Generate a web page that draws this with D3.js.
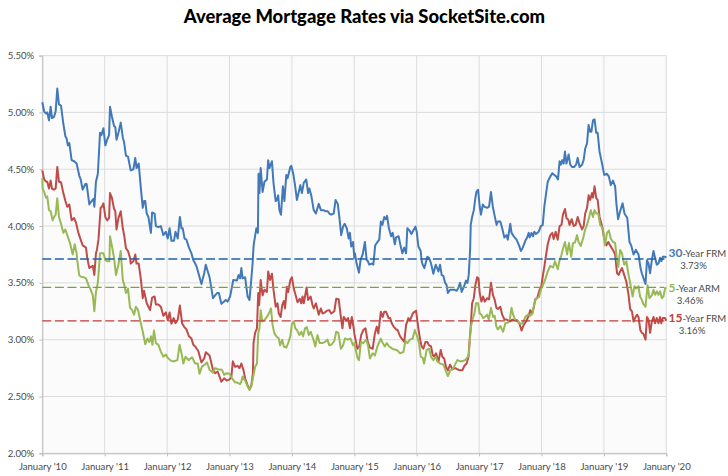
<!DOCTYPE html>
<html>
<head>
<meta charset="utf-8">
<script src="https://cdn.jsdelivr.net/npm/d3@7"></script>
<style>
  html, body { margin: 0; padding: 0; background: #fff; }
  svg { display: block; }
  text { font-family: Lato, "Open Sans", sans-serif; }
</style>
</head>
<body>
<div id="chart"></div>
<script>
// Rates: [decimal year, rate in %]
const rate30 = [
  [2010.0,5.09],[2010.03,5.01],[2010.06,4.99],[2010.08,5.0],[2010.107,4.93],[2010.134,5.05],[2010.155,4.95],[2010.187,4.96],[2010.214,5.01],[2010.24,5.21],[2010.267,5.07],[2010.3,5.06],[2010.337,4.9],[2010.37,4.79],[2010.39,4.77],[2010.41,4.71],[2010.433,4.73],[2010.47,4.58],[2010.51,4.57],[2010.55,4.55],[2010.594,4.44],[2010.615,4.41],[2010.647,4.32],[2010.69,4.37],[2010.71,4.37],[2010.754,4.19],[2010.79,4.22],[2010.82,4.24],[2010.834,4.17],[2010.86,4.39],[2010.89,4.46],[2010.925,4.82],[2010.946,4.8],[2010.98,4.86],
  [2011.01,4.71],[2011.04,4.76],[2011.07,4.8],[2011.085,5.05],[2011.117,4.96],[2011.15,4.88],[2011.17,4.87],[2011.19,4.76],[2011.224,4.83],[2011.257,4.91],[2011.29,4.78],[2011.31,4.74],[2011.34,4.62],[2011.374,4.61],[2011.417,4.49],[2011.46,4.5],[2011.49,4.6],[2011.51,4.51],[2011.545,4.55],[2011.58,4.33],[2011.61,4.16],[2011.63,4.22],[2011.65,4.22],[2011.674,4.11],[2011.7,4.08],[2011.74,3.94],[2011.76,4.12],[2011.8,4.11],[2011.82,4.0],[2011.86,3.99],[2011.9,4.0],[2011.94,3.92],[2011.98,3.95],
  [2012.01,3.89],[2012.04,3.98],[2012.07,3.87],[2012.11,3.87],[2012.135,3.95],[2012.17,3.89],[2012.205,4.08],[2012.23,3.98],[2012.25,3.98],[2012.28,3.89],[2012.31,3.88],[2012.35,3.81],[2012.39,3.76],[2012.42,3.7],[2012.45,3.67],[2012.475,3.64],[2012.55,3.49],[2012.595,3.585],[2012.62,3.66],[2012.68,3.55],[2012.735,3.365],[2012.77,3.39],[2012.8,3.41],[2012.83,3.41],[2012.87,3.315],[2012.9,3.33],[2012.94,3.35],[2012.97,3.335],
  [2013.01,3.38],[2013.06,3.525],[2013.12,3.52],[2013.145,3.57],[2013.17,3.54],[2013.19,3.63],[2013.21,3.54],[2013.25,3.55],[2013.29,3.38],[2013.32,3.35],[2013.34,3.47],[2013.37,3.67],[2013.385,3.82],[2013.395,3.86],[2013.43,3.98],[2013.455,3.94],[2013.465,4.46],[2013.48,4.29],[2013.5,4.51],[2013.53,4.3],[2013.56,4.39],[2013.6,4.41],[2013.62,4.58],[2013.64,4.51],[2013.68,4.57],[2013.705,4.38],[2013.74,4.22],[2013.76,4.23],[2013.78,4.27],[2013.8,4.14],[2013.825,4.1],[2013.855,4.35],[2013.88,4.22],[2013.91,4.45],[2013.93,4.42],[2013.975,4.52],[2013.99,4.53],
  [2014.02,4.465],[2014.05,4.36],[2014.08,4.23],[2014.11,4.3],[2014.135,4.36],[2014.16,4.29],[2014.19,4.38],[2014.23,4.41],[2014.26,4.29],[2014.28,4.33],[2014.31,4.27],[2014.35,4.14],[2014.385,4.11],[2014.43,4.195],[2014.465,4.14],[2014.51,4.14],[2014.535,4.13],[2014.575,4.13],[2014.6,4.11],[2014.63,4.1],[2014.67,4.11],[2014.7,4.23],[2014.735,4.195],[2014.76,4.08],[2014.79,3.92],[2014.82,3.995],[2014.845,4.02],[2014.88,3.98],[2014.91,3.89],[2014.93,3.94],[2014.95,3.82],[2014.98,3.86],
  [2015.0,3.72],[2015.01,3.76],[2015.037,3.67],[2015.075,3.59],[2015.1,3.7],[2015.134,3.75],[2015.17,3.86],[2015.198,3.7],[2015.21,3.7],[2015.24,3.66],[2015.28,3.67],[2015.305,3.66],[2015.335,3.83],[2015.365,3.855],[2015.4,3.88],[2015.425,4.04],[2015.45,4.01],[2015.48,4.08],[2015.505,4.06],[2015.525,4.09],[2015.555,3.98],[2015.59,3.91],[2015.615,3.94],[2015.65,3.84],[2015.67,3.9],[2015.71,3.91],[2015.74,3.83],[2015.77,3.76],[2015.8,3.81],[2015.83,3.76],[2015.85,3.98],[2015.885,3.96],[2015.915,3.93],[2015.945,3.96],[2015.98,3.995],
  [2016.0,3.95],[2016.027,3.82],[2016.064,3.78],[2016.08,3.69],[2016.096,3.66],[2016.123,3.63],[2016.17,3.73],[2016.198,3.72],[2016.23,3.67],[2016.267,3.58],[2016.305,3.66],[2016.348,3.6],[2016.374,3.66],[2016.4,3.57],[2016.428,3.56],[2016.455,3.5],[2016.48,3.48],[2016.5,3.41],[2016.535,3.44],[2016.572,3.44],[2016.604,3.44],[2016.64,3.43],[2016.663,3.45],[2016.695,3.5],[2016.72,3.42],[2016.76,3.47],[2016.79,3.52],[2016.813,3.5],[2016.834,3.57],[2016.856,3.79],[2016.866,4.01],[2016.888,4.08],[2016.915,4.14],[2016.94,4.245],[2016.957,4.3],[2016.984,4.32],
  [2017.01,4.17],[2017.03,4.1],[2017.06,4.19],[2017.085,4.17],[2017.13,4.16],[2017.16,4.17],[2017.19,4.3],[2017.22,4.17],[2017.245,4.1],[2017.28,4.01],[2017.3,4.04],[2017.34,4.04],[2017.37,3.98],[2017.405,3.9],[2017.44,3.92],[2017.46,3.88],[2017.5,4.02],[2017.52,3.94],[2017.555,3.91],[2017.6,3.88],[2017.64,3.83],[2017.67,3.78],[2017.7,3.81],[2017.74,3.87],[2017.77,3.9],[2017.795,3.94],[2017.81,3.9],[2017.84,3.94],[2017.864,3.91],[2017.885,3.95],[2017.91,3.93],[2017.955,3.95],[2017.99,4.0],
  [2018.02,4.01],[2018.045,4.17],[2018.077,4.3],[2018.1,4.39],[2018.14,4.435],[2018.173,4.465],[2018.205,4.45],[2018.237,4.435],[2018.264,4.41],[2018.29,4.57],[2018.31,4.54],[2018.333,4.58],[2018.355,4.55],[2018.376,4.655],[2018.4,4.55],[2018.435,4.63],[2018.46,4.54],[2018.49,4.52],[2018.525,4.52],[2018.555,4.54],[2018.58,4.6],[2018.61,4.52],[2018.65,4.54],[2018.675,4.58],[2018.7,4.68],[2018.73,4.73],[2018.755,4.89],[2018.78,4.83],[2018.8,4.83],[2018.825,4.93],[2018.85,4.94],[2018.877,4.82],[2018.9,4.82],[2018.93,4.655],[2018.97,4.55],
  [2019.005,4.45],[2019.05,4.46],[2019.08,4.435],[2019.11,4.36],[2019.145,4.4],[2019.18,4.35],[2019.2,4.2],[2019.227,4.06],[2019.265,4.14],[2019.3,4.2],[2019.33,4.11],[2019.375,4.07],[2019.41,3.86],[2019.437,3.83],[2019.475,3.75],[2019.512,3.79],[2019.555,3.75],[2019.587,3.63],[2019.608,3.585],[2019.635,3.54],[2019.667,3.49],[2019.69,3.7],[2019.715,3.67],[2019.74,3.585],[2019.768,3.7],[2019.795,3.78],[2019.82,3.72],[2019.848,3.66],[2019.875,3.67],[2019.9,3.72],[2019.92,3.69],[2019.944,3.73],[2019.98,3.73],[2020.0,3.72]
];

const rate15 = [
  [2010.0,4.49],[2010.03,4.41],[2010.06,4.39],[2010.08,4.39],[2010.107,4.33],[2010.134,4.4],[2010.155,4.33],[2010.187,4.32],[2010.214,4.33],[2010.24,4.52],[2010.267,4.39],[2010.3,4.385],[2010.337,4.29],[2010.37,4.22],[2010.4,4.17],[2010.433,4.19],[2010.47,4.05],[2010.51,4.07],[2010.54,4.03],[2010.578,3.94],[2010.615,3.88],[2010.647,3.83],[2010.7,3.81],[2010.72,3.72],[2010.754,3.63],[2010.775,3.64],[2010.81,3.65],[2010.834,3.57],[2010.86,3.76],[2010.875,3.79],[2010.9,3.88],[2010.935,4.16],[2010.957,4.17],[2010.98,4.2],
  [2011.01,4.08],[2011.04,4.05],[2011.07,4.07],[2011.085,4.29],[2011.117,4.245],[2011.15,4.15],[2011.17,4.13],[2011.19,3.97],[2011.22,4.07],[2011.257,4.13],[2011.29,3.98],[2011.315,3.91],[2011.34,3.805],[2011.374,3.78],[2011.406,3.72],[2011.417,3.67],[2011.46,3.69],[2011.49,3.75],[2011.51,3.67],[2011.545,3.67],[2011.58,3.53],[2011.61,3.365],[2011.63,3.43],[2011.674,3.32],[2011.727,3.26],[2011.76,3.37],[2011.8,3.38],[2011.82,3.31],[2011.86,3.31],[2011.9,3.29],[2011.94,3.21],[2011.98,3.24],
  [2012.01,3.17],[2012.04,3.24],[2012.07,3.14],[2012.105,3.19],[2012.135,3.145],[2012.17,3.175],[2012.205,3.3],[2012.24,3.145],[2012.27,3.115],[2012.31,3.09],[2012.35,3.03],[2012.39,3.01],[2012.42,2.955],[2012.45,2.94],[2012.5,2.9],[2012.55,2.8],[2012.595,2.835],[2012.62,2.89],[2012.68,2.86],[2012.735,2.735],[2012.77,2.705],[2012.81,2.72],[2012.87,2.63],[2012.915,2.66],[2012.955,2.64],
  [2013.0,2.65],[2013.03,2.675],[2013.053,2.81],[2013.09,2.76],[2013.13,2.77],[2013.16,2.75],[2013.19,2.79],[2013.225,2.73],[2013.25,2.66],[2013.29,2.6],[2013.32,2.56],[2013.35,2.6],[2013.375,2.7],[2013.385,2.97],[2013.41,3.06],[2013.44,3.1],[2013.46,3.41],[2013.475,3.305],[2013.5,3.525],[2013.53,3.39],[2013.56,3.44],[2013.6,3.42],[2013.62,3.6],[2013.65,3.525],[2013.68,3.58],[2013.705,3.44],[2013.74,3.29],[2013.77,3.32],[2013.79,3.23],[2013.82,3.2],[2013.845,3.305],[2013.87,3.34],[2013.89,3.275],[2013.92,3.465],[2013.94,3.42],[2013.975,3.525],
  [2014.0,3.55],[2014.03,3.45],[2014.06,3.39],[2014.09,3.33],[2014.125,3.36],[2014.15,3.32],[2014.17,3.38],[2014.19,3.32],[2014.235,3.46],[2014.26,3.35],[2014.3,3.38],[2014.33,3.305],[2014.35,3.275],[2014.385,3.32],[2014.43,3.22],[2014.465,3.275],[2014.49,3.23],[2014.53,3.24],[2014.56,3.255],[2014.6,3.26],[2014.63,3.23],[2014.68,3.25],[2014.71,3.36],[2014.75,3.355],[2014.78,3.22],[2014.81,3.1],[2014.83,3.2],[2014.87,3.17],[2014.9,3.19],[2014.93,3.1],[2014.96,3.2],[2014.995,3.085],
  [2015.0,3.055],[2015.02,3.0],[2015.05,2.92],[2015.08,2.94],[2015.11,3.04],[2015.145,3.085],[2015.18,3.1],[2015.215,2.98],[2015.25,2.93],[2015.295,2.92],[2015.33,3.055],[2015.36,3.115],[2015.385,3.055],[2015.425,3.245],[2015.455,3.2],[2015.48,3.245],[2015.51,3.245],[2015.55,3.19],[2015.575,3.19],[2015.6,3.145],[2015.63,3.115],[2015.67,3.09],[2015.695,3.085],[2015.733,3.03],[2015.76,3.01],[2015.8,2.98],[2015.83,3.13],[2015.866,3.19],[2015.893,3.17],[2015.936,3.23],[2015.965,3.245],[2015.99,3.255],
  [2016.03,3.085],[2016.055,3.0],[2016.08,2.94],[2016.107,2.92],[2016.14,2.98],[2016.17,2.98],[2016.198,2.95],[2016.23,2.94],[2016.257,2.865],[2016.28,2.85],[2016.31,2.88],[2016.348,2.805],[2016.385,2.91],[2016.41,2.85],[2016.44,2.835],[2016.47,2.76],[2016.5,2.73],[2016.535,2.78],[2016.572,2.74],[2016.615,2.75],[2016.65,2.74],[2016.695,2.73],[2016.73,2.73],[2016.765,2.77],[2016.8,2.79],[2016.83,2.85],[2016.845,2.97],[2016.866,3.115],[2016.888,3.32],[2016.915,3.365],[2016.94,3.48],[2016.968,3.55],[2016.99,3.54],
  [2017.01,3.41],[2017.037,3.335],[2017.064,3.38],[2017.09,3.335],[2017.13,3.365],[2017.16,3.355],[2017.19,3.5],[2017.224,3.39],[2017.25,3.35],[2017.277,3.28],[2017.3,3.27],[2017.34,3.29],[2017.37,3.22],[2017.405,3.18],[2017.448,3.175],[2017.49,3.16],[2017.528,3.175],[2017.565,3.175],[2017.61,3.17],[2017.645,3.145],[2017.68,3.08],[2017.715,3.13],[2017.752,3.16],[2017.795,3.21],[2017.82,3.26],[2017.85,3.23],[2017.875,3.28],[2017.9,3.355],[2017.93,3.365],[2017.97,3.44],[2017.997,3.47],
  [2018.024,3.57],[2018.045,3.64],[2018.077,3.76],[2018.1,3.84],[2018.14,3.92],[2018.173,3.94],[2018.195,3.885],[2018.227,3.95],[2018.26,3.88],[2018.29,4.0],[2018.32,4.01],[2018.344,4.1],[2018.376,4.15],[2018.4,4.07],[2018.43,4.055],[2018.45,4.01],[2018.485,4.06],[2018.515,4.0],[2018.547,4.01],[2018.58,4.08],[2018.61,4.025],[2018.65,3.97],[2018.675,4.0],[2018.7,4.11],[2018.73,4.16],[2018.755,4.27],[2018.78,4.23],[2018.81,4.29],[2018.825,4.25],[2018.85,4.35],[2018.877,4.245],[2018.9,4.23],[2018.93,4.08],[2018.97,4.0],
  [2019.005,3.89],[2019.04,3.83],[2019.07,3.86],[2019.1,3.83],[2019.145,3.79],[2019.18,3.75],[2019.2,3.64],[2019.21,3.585],[2019.235,3.57],[2019.26,3.6],[2019.29,3.63],[2019.325,3.57],[2019.36,3.51],[2019.395,3.395],[2019.42,3.27],[2019.45,3.25],[2019.475,3.16],[2019.5,3.19],[2019.53,3.22],[2019.555,3.2],[2019.584,3.085],[2019.608,3.06],[2019.635,3.05],[2019.667,3.0],[2019.69,3.2],[2019.715,3.175],[2019.74,3.06],[2019.768,3.16],[2019.795,3.2],[2019.82,3.145],[2019.848,3.19],[2019.875,3.145],[2019.9,3.2],[2019.92,3.145],[2019.944,3.19],[2019.98,3.19],[2020.0,3.165]
];

const rate5 = [
  [2010.0,4.42],[2010.005,4.33],[2010.03,4.3],[2010.06,4.25],[2010.08,4.26],[2010.107,4.14],[2010.134,4.13],[2010.165,4.05],[2010.19,4.08],[2010.214,4.1],[2010.24,4.245],[2010.267,4.08],[2010.3,4.02],[2010.337,3.94],[2010.37,3.97],[2010.406,3.91],[2010.444,3.85],[2010.487,3.75],[2010.52,3.84],[2010.55,3.76],[2010.56,3.7],[2010.59,3.57],[2010.615,3.555],[2010.66,3.55],[2010.7,3.54],[2010.74,3.48],[2010.775,3.44],[2010.81,3.39],[2010.834,3.25],[2010.86,3.42],[2010.89,3.5],[2010.925,3.76],[2010.95,3.76],[2010.98,3.76],
  [2011.01,3.7],[2011.04,3.69],[2011.075,3.69],[2011.085,3.91],[2011.117,3.82],[2011.15,3.72],[2011.18,3.57],[2011.22,3.66],[2011.257,3.78],[2011.29,3.525],[2011.315,3.48],[2011.34,3.41],[2011.374,3.45],[2011.406,3.28],[2011.44,3.26],[2011.47,3.22],[2011.5,3.29],[2011.535,3.26],[2011.567,3.175],[2011.61,3.07],[2011.65,2.96],[2011.684,3.01],[2011.716,2.98],[2011.743,3.03],[2011.765,2.955],[2011.79,3.08],[2011.82,2.97],[2011.86,2.955],[2011.9,2.895],[2011.94,2.85],[2011.98,2.87],
  [2012.01,2.84],[2012.05,2.82],[2012.08,2.81],[2012.11,2.81],[2012.165,2.82],[2012.2,2.955],[2012.235,2.87],[2012.26,2.79],[2012.295,2.85],[2012.345,2.82],[2012.4,2.845],[2012.45,2.79],[2012.49,2.79],[2012.52,2.7],[2012.56,2.765],[2012.605,2.78],[2012.64,2.8],[2012.68,2.735],[2012.735,2.71],[2012.77,2.75],[2012.81,2.74],[2012.88,2.735],[2012.915,2.69],[2012.955,2.705],
  [2013.0,2.7],[2013.04,2.66],[2013.09,2.625],[2013.13,2.62],[2013.17,2.61],[2013.19,2.63],[2013.21,2.675],[2013.25,2.64],[2013.29,2.59],[2013.32,2.56],[2013.35,2.59],[2013.375,2.66],[2013.41,2.76],[2013.44,2.79],[2013.46,3.055],[2013.48,3.1],[2013.5,3.26],[2013.525,3.16],[2013.556,3.17],[2013.6,3.2],[2013.63,3.23],[2013.665,3.275],[2013.69,3.13],[2013.72,3.055],[2013.75,3.03],[2013.79,3.01],[2013.81,2.95],[2013.845,3.0],[2013.87,2.94],[2013.91,2.93],[2013.94,2.97],[2013.975,3.03],
  [2014.0,3.14],[2014.03,3.16],[2014.055,3.1],[2014.08,3.085],[2014.12,3.04],[2014.15,3.07],[2014.18,3.03],[2014.21,3.1],[2014.24,3.11],[2014.27,3.04],[2014.3,3.07],[2014.34,3.01],[2014.375,2.94],[2014.41,3.04],[2014.445,2.97],[2014.49,2.97],[2014.53,2.98],[2014.57,3.0],[2014.6,2.95],[2014.64,2.96],[2014.68,2.99],[2014.71,3.07],[2014.745,3.06],[2014.785,2.92],[2014.82,2.95],[2014.85,3.01],[2014.9,3.0],[2014.94,3.01],[2014.98,2.95],
  [2015.0,2.97],[2015.02,2.92],[2015.05,2.84],[2015.075,2.82],[2015.107,2.98],[2015.145,2.97],[2015.19,3.0],[2015.22,2.95],[2015.25,2.835],[2015.295,2.88],[2015.33,2.86],[2015.37,2.94],[2015.425,3.01],[2015.455,2.97],[2015.49,2.94],[2015.52,2.97],[2015.56,2.94],[2015.625,2.915],[2015.68,2.91],[2015.733,2.88],[2015.786,2.89],[2015.82,2.99],[2015.85,2.97],[2015.893,3.0],[2015.936,3.01],[2015.97,3.085],
  [2016.0,3.04],[2016.037,2.97],[2016.064,2.85],[2016.096,2.84],[2016.118,2.79],[2016.16,2.91],[2016.198,2.92],[2016.23,2.85],[2016.267,2.82],[2016.305,2.85],[2016.33,2.81],[2016.374,2.79],[2016.428,2.78],[2016.47,2.72],[2016.5,2.68],[2016.535,2.73],[2016.578,2.74],[2016.615,2.78],[2016.65,2.82],[2016.695,2.81],[2016.73,2.81],[2016.775,2.82],[2016.813,2.845],[2016.834,2.865],[2016.856,3.03],[2016.87,3.115],[2016.893,3.175],[2016.925,3.23],[2016.95,3.32],[2016.984,3.32],
  [2017.01,3.23],[2017.037,3.22],[2017.064,3.19],[2017.09,3.2],[2017.13,3.22],[2017.155,3.175],[2017.19,3.28],[2017.224,3.2],[2017.25,3.21],[2017.277,3.115],[2017.3,3.09],[2017.34,3.12],[2017.385,3.07],[2017.42,3.145],[2017.46,3.15],[2017.49,3.175],[2017.52,3.28],[2017.545,3.22],[2017.58,3.17],[2017.62,3.16],[2017.66,3.14],[2017.7,3.145],[2017.74,3.2],[2017.78,3.22],[2017.82,3.21],[2017.855,3.23],[2017.885,3.32],[2017.917,3.365],[2017.96,3.375],[2017.99,3.44],
  [2018.024,3.48],[2018.06,3.53],[2018.1,3.6],[2018.14,3.65],[2018.184,3.635],[2018.216,3.69],[2018.26,3.62],[2018.29,3.7],[2018.317,3.74],[2018.344,3.8],[2018.376,3.86],[2018.41,3.75],[2018.44,3.85],[2018.477,3.73],[2018.504,3.85],[2018.536,3.855],[2018.57,3.92],[2018.595,3.86],[2018.63,3.825],[2018.675,3.91],[2018.7,3.97],[2018.73,4.01],[2018.76,4.07],[2018.79,4.14],[2018.825,4.08],[2018.85,4.14],[2018.877,4.11],[2018.91,4.11],[2018.94,4.01],[2018.985,3.98],
  [2019.016,3.83],[2019.05,3.94],[2019.08,3.96],[2019.11,3.89],[2019.145,3.86],[2019.18,3.85],[2019.21,3.7],[2019.23,3.64],[2019.26,3.79],[2019.29,3.76],[2019.325,3.66],[2019.36,3.69],[2019.395,3.57],[2019.42,3.5],[2019.46,3.38],[2019.49,3.47],[2019.517,3.45],[2019.555,3.47],[2019.58,3.38],[2019.608,3.35],[2019.635,3.31],[2019.667,3.29],[2019.7,3.48],[2019.73,3.365],[2019.768,3.39],[2019.795,3.44],[2019.82,3.395],[2019.848,3.425],[2019.875,3.395],[2019.9,3.425],[2019.93,3.365],[2019.954,3.38],[2019.98,3.45],[2020.0,3.46]
];

// Moyennes affichées en pointillés
const averages = [3.71, 3.46, 3.165];

const yearTicks = d3.range(2010, 2021);
const rateTicks = [2, 2.5, 3, 3.5, 4, 4.5, 5, 5.5];

const width = 728, height = 476;
const svg = d3.select("#chart").append("svg")
  .attr("width", width)
  .attr("height", height);

const x = d3.scaleLinear().domain([2010, 2020]).range([42.3, 666.3]);
const y = d3.scaleLinear().domain([2, 5.5]).range([453.3, 55.6]);

// Titre
svg.append("text")
  .attr("x", 364.5)
  .attr("y", 22.5)
  .attr("text-anchor", "middle")
  .attr("font-size", 18.4)
  .attr("font-weight", 900)
  .attr("fill", "#000")
  .text("Average Mortgage Rates via SocketSite.com");

// Fond du graphique
svg.append("rect")
  .attr("x", x(2010))
  .attr("y", y(5.5))
  .attr("width", x(2020) - x(2010))
  .attr("height", y(2) - y(5.5))
  .attr("fill", "#fbfbfb");

// Grille
svg.append("g").selectAll("line")
  .data(rateTicks)
  .join("line")
  .attr("x1", x(2010)).attr("x2", x(2020))
  .attr("y1", d => y(d)).attr("y2", d => y(d))
  .attr("stroke", "#dcdcdc").attr("stroke-width", 1);

svg.append("g").selectAll("line")
  .data(yearTicks)
  .join("line")
  .attr("x1", d => x(d)).attr("x2", d => x(d))
  .attr("y1", y(5.5)).attr("y2", y(2))
  .attr("stroke", "#dcdcdc").attr("stroke-width", 1);

// Axes
const yAxis = svg.append("g")
  .attr("transform", `translate(${x(2010)},0)`)
  .call(d3.axisLeft(y).tickValues(rateTicks).tickSize(3).tickPadding(5).tickFormat(d => d.toFixed(2) + "%"));
const xAxis = svg.append("g")
  .attr("transform", `translate(0,${y(2)})`)
  .call(d3.axisBottom(x).tickValues(yearTicks).tickSize(3).tickPadding(7).tickFormat(d => "January '" + String(d).slice(2)));

[yAxis, xAxis].forEach(axis => {
  axis.selectAll("path, line").attr("stroke", "#bdbdbd");
  axis.selectAll("text")
    .attr("font-size", 9.6)
    .attr("font-family", "Lato, 'Open Sans', sans-serif")
    .attr("fill", "#4a4a4a");
});

// Courbes
const line = d3.line().x(d => x(d[0])).y(d => y(d[1]));
const curves = [
  { values: rate30, color: "#4279b9" },
  { values: rate15, color: "#bf4c49" },
  { values: rate5, color: "#98b955" }
];
svg.append("g").selectAll("path")
  .data(curves)
  .join("path")
  .attr("d", d => line(d.values))
  .attr("fill", "none")
  .attr("stroke", d => d.color)
  .attr("stroke-width", 2)
  .attr("stroke-linejoin", "round");

// Moyennes
const dashColors = ["#2160aa", "#7aa62f", "#c03b3b"];
svg.append("g").selectAll("line")
  .data(averages)
  .join("line")
  .attr("x1", x(2010)).attr("x2", x(2019.97))
  .attr("y1", d => y(d)).attr("y2", d => y(d))
  .attr("stroke", (d, i) => dashColors[i])
  .attr("stroke-width", 1.4)
  .attr("stroke-dasharray", "9 3.6");

// Étiquettes à droite
const labelTerm = ["30", "5", "15"];
const labelName = ["-Year FRM", "-Year ARM", "-Year FRM"];
const labelValue = ["3.73%", "3.46%", "3.16%"];
const labelColors = ["#4279b9", "#98b955", "#c0403d"];
const labelY = [257, 292, 322];
const valueX = [693.5, 690, 692];

const labels = svg.append("g").selectAll("g")
  .data(labelTerm)
  .join("g");

const head = labels.append("text")
  .attr("x", 668.5)
  .attr("y", (d, i) => labelY[i]);
head.append("tspan")
  .attr("font-size", 12)
  .attr("font-weight", 700)
  .attr("fill", (d, i) => labelColors[i])
  .text(d => d);
head.append("tspan")
  .attr("font-size", 9.6)
  .attr("fill", "#4a4a4a")
  .text((d, i) => labelName[i]);

labels.append("text")
  .attr("x", (d, i) => valueX[i])
  .attr("y", (d, i) => labelY[i] + 11.8)
  .attr("text-anchor", "middle")
  .attr("font-size", 9.6)
  .attr("fill", "#4a4a4a")
  .text((d, i) => labelValue[i]);
</script>
</body>
</html>
